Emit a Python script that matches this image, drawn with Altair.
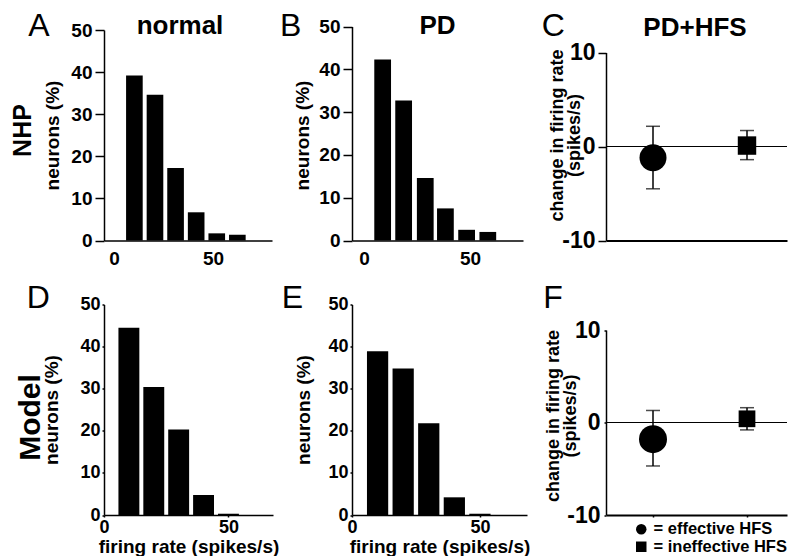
import altair as alt
import pandas as pd

FONT = "Liberation Sans"

# ---------------- data ----------------
# NHP histograms (firing rate bin centres, % of neurons)
A_rate = [10.3, 20.7, 31.1, 41.5, 51.9, 62.3]
A_pct = [39.2, 34.6, 17.2, 6.7, 1.7, 1.35]
B_rate = [8.8, 18.7, 28.9, 38.4, 48.4, 58.4]
B_pct = [42.3, 32.7, 14.6, 7.5, 2.5, 2.0]
# Model histograms
D_rate = [10, 20, 30, 40, 50]
D_pct = [44.5, 30.4, 20.3, 4.75, 0.3]
E_rate = [10, 20, 30, 40, 50]
E_pct = [38.9, 34.8, 21.8, 4.2, 0.3]

# PD+HFS change in firing rate
groups = ["effective HFS", "ineffective HFS"]
group_pos = [1, 2]
C_mean = [-1.2, 0.1]
C_lo = [-4.5, -1.4]
C_hi = [2.15, 1.7]
F_mean = [-1.8, 0.4]
F_lo = [-4.7, -0.8]
F_hi = [1.3, 1.6]

H = 210.5


def txt(s, x, y, size, weight="bold", angle=0, align="left", baseline="alphabetic"):
    return alt.Chart(pd.DataFrame({"t": [s]})).mark_text(
        font=FONT, fontSize=size, fontWeight=weight, angle=angle, align=align,
        baseline=baseline, color="black"
    ).encode(x=alt.value(x), y=alt.value(y), text="t:N")


def histogram(rate, pct, half, xdom, yrange, kind, ytitle_x):
    df = pd.DataFrame({"rate": rate, "pct": pct})
    if kind == "nhp":
        xa = alt.Axis(values=[0, 50], ticks=False, labelPadding=9, labelFontSize=19,
                      labelFlush=False, title=None, domainWidth=1.5, labelAngle=0)
        ya = alt.Axis(values=[0, 10, 20, 30, 40, 50], tickSize=9, tickWidth=1.5,
                      labelPadding=3, labelFontSize=19, domainWidth=1.5,
                      title="neurons (%)", titleFontSize=19, titleX=ytitle_x, titleY=105,
                      titleAngle=270, titleAlign="center", titleBaseline="middle")
    else:
        xa = alt.Axis(values=[0, 50], tickSize=2, tickWidth=1.5, labelPadding=1,
                      labelFontSize=18, labelFlush=False, domainWidth=1.5, labelAngle=0,
                      title="firing rate (spikes/s)", titleFontSize=19, titleY=37,
                      titleBaseline="alphabetic")
        ya = alt.Axis(values=[0, 10, 20, 30, 40, 50], tickSize=2, tickWidth=1.5,
                      labelPadding=2, labelFontSize=18, domainWidth=1.5,
                      title="neurons (%)", titleFontSize=19, titleX=ytitle_x, titleY=105,
                      titleAngle=270, titleAlign="center", titleBaseline="middle")
    if yrange is None:
        ys = alt.Scale(domain=[0, 50], nice=False, zero=True)
    else:
        ys = alt.Scale(domain=[0, 50], nice=False, zero=True, range=yrange)
    xs = alt.Scale(domain=xdom, nice=False, zero=False)
    bars = alt.Chart(df).transform_calculate(
        x0=f"datum.rate - {half}", x1=f"datum.rate + {half}"
    ).mark_bar(color="black").encode(
        x=alt.X("x0:Q", scale=xs, axis=xa),
        x2="x1:Q",
        y=alt.Y("pct:Q", scale=ys, axis=ya),
        y2=alt.Y2(datum=0),
    )
    return bars


def effect(mean, lo, hi, w, yrange, title_x, title_y, ticksize, labpad,
           circ, sq, legend, xticks):
    df = pd.DataFrame({"group": groups, "pos": group_pos, "mean": mean, "lo": lo, "hi": hi})
    xs = alt.Scale(domain=[0.5, 0.5 + w / 94.0], nice=False, zero=False)
    ys = alt.Scale(domain=[-10, 10], range=yrange, nice=False, zero=False)
    if xticks:
        xa = alt.Axis(values=[1, 2], labels=False, tickSize=2, tickWidth=1.5,
                      title=None, domainWidth=2, grid=False)
    else:
        xa = alt.Axis(values=[1, 2], labels=False, ticks=False, title=None,
                      domainWidth=2, grid=False)
    ya = alt.Axis(values=[-10, 0, 10], labelExpr="datum.value", tickSize=ticksize,
                  tickWidth=1.5, labelPadding=labpad, labelFontSize=23, domainWidth=1.5,
                  title=["change in firing rate", "(spikes/s)"], titleFontSize=18,
                  titleLineHeight=17, titleX=title_x, titleY=title_y, titleAngle=270,
                  titleAlign="center", titleBaseline="middle")
    shp = alt.Scale(domain=groups, range=["circle", "square"])
    base = alt.Chart(df)
    zero = base.mark_rule(color="black", strokeWidth=1).encode(
        y=alt.Y(datum=0, scale=ys, axis=ya))
    err = base.mark_rule(color="black", strokeWidth=1.5).encode(
        x=alt.X("pos:Q", scale=xs, axis=xa),
        y=alt.Y("lo:Q", scale=ys, axis=ya), y2="hi:Q")
    cap_hi = base.mark_tick(color="black", orient="horizontal", size=14, thickness=1.5).encode(
        x=alt.X("pos:Q", scale=xs, axis=xa), y=alt.Y("hi:Q", scale=ys, axis=ya))
    cap_lo = base.mark_tick(color="black", orient="horizontal", size=14, thickness=1.5).encode(
        x=alt.X("pos:Q", scale=xs, axis=xa), y=alt.Y("lo:Q", scale=ys, axis=ya))
    p_circ = base.transform_filter(alt.datum.group == groups[0]).mark_point(
        filled=True, opacity=1, color="black", size=circ).encode(
        x=alt.X("pos:Q", scale=xs, axis=xa),
        y=alt.Y("mean:Q", scale=ys, axis=ya),
        shape=alt.Shape("group:N", scale=shp, legend=legend))
    p_sq = base.transform_filter(alt.datum.group == groups[1]).mark_point(
        filled=True, opacity=1, color="black", size=sq).encode(
        x=alt.X("pos:Q", scale=xs, axis=xa),
        y=alt.Y("mean:Q", scale=ys, axis=ya),
        shape=alt.Shape("group:N", scale=shp, legend=legend))
    return zero, err, cap_hi, cap_lo, p_circ, p_sq


anchor = alt.Chart(pd.DataFrame({"a": [0]})).mark_rule(opacity=0, strokeWidth=0).encode(
    x=alt.value(-96), x2=alt.value(-96), y=alt.value(-21.5), y2=alt.value(-21.5))

# ---- Panel A ----
A = alt.layer(
    anchor,
    histogram(A_rate, A_pct, 4.2, [-5.05, 79.8], None, "nhp", -52),
    txt("A", -75.7, 5.5, 32, weight="normal"),
    txt("NHP", -73.5, 100.5, 25, angle=270, align="center"),
    txt("normal", 76, 3.8, 26, align="center"),
).properties(width=168, height=H)

# ---- Panel B ----
B = alt.layer(
    histogram(B_rate, B_pct, 3.95, [-5.66, 75.0], [H, -3.5], "nhp", -49.5),
    txt("B", -72, 5.5, 32, weight="normal"),
    txt("PD", 85.5, 3.8, 26, align="center"),
).properties(width=171, height=H)

# ---- Panel C ----
C = alt.layer(
    *effect(C_mean, C_lo, C_hi, 181, [H, 22.5], -49, 105, 8, 3, 729, 340, None, False),
    txt("C", -64.3, 5.5, 32, weight="normal"),
    txt("PD+HFS", 89, 5.5, 26, align="center"),
).properties(width=181, height=H)

# ---- Panel D ----
D = alt.layer(
    histogram(D_rate, D_pct, 4.2, [0, 67.9], None, "model", -53),
    txt("D", -77.3, 3, 32, weight="normal"),
    txt("Model", -64.5, 113, 30, angle=270, align="center"),
).properties(width=169, height=H)

# ---- Panel E ----
E = alt.layer(
    histogram(E_rate, E_pct, 4.15, [0, 68.4], None, "model", -48.5),
    txt("E", -70.3, 3.5, 32, weight="normal"),
).properties(width=175, height=H)

# ---- Panel F ----
leg = alt.Legend(orient="none", legendX=27, legendY=216.5, title=None,
                 labelExpr="'= ' + datum.label", labelFontSize=16.5, labelFont=FONT,
                 labelFontWeight="bold", labelColor="black", symbolSize=110,
                 symbolFillColor="black", symbolStrokeColor="black", symbolStrokeWidth=0,
                 symbolOpacity=1, labelOffset=4, rowPadding=0.5, padding=0)
F = alt.layer(
    *effect(F_mean, F_lo, F_hi, 181, [H, 25.5], -52.3, 111, 2, 4, 784, 280, leg, True),
    txt("F", -62.7, 3, 32, weight="normal"),
).properties(width=181, height=H)

chart = alt.concat(
    A, B, C, D, E, F, columns=3,
    spacing={"row": 63.5, "column": 79}, bounds="flush", align="each"
).resolve_scale(
    shape="independent"
).properties(
    padding=0
).configure_view(
    stroke=None
).configure_axis(
    labelFont=FONT, titleFont=FONT, labelFontWeight="bold", titleFontWeight="bold",
    labelColor="black", titleColor="black", domainColor="black", tickColor="black",
    grid=False
)

chart.save("out.html", embed_options={"renderer": "svg", "actions": False})
